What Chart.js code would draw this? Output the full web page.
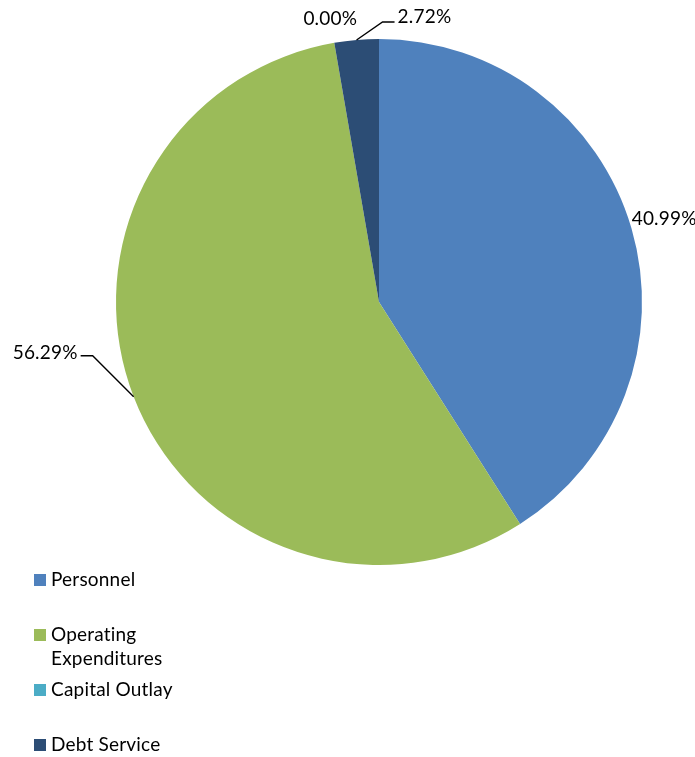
<!DOCTYPE html>
<html>
<head>
<meta charset="utf-8">
<script src="https://cdn.jsdelivr.net/npm/chart.js@4.4.1/dist/chart.umd.min.js"></script>
<style>
  html, body { margin: 0; padding: 0; background: #fff; }
  #wrap { width: 695px; height: 757px; position: relative; }
</style>
</head>
<body>
<div id="wrap"><canvas id="grafica"></canvas></div>
<script>
// Datos del gráfico
const categorias = ['Personnel', 'Operating Expenditures', 'Capital Outlay', 'Debt Service'];
const porcentajes = [40.99, 56.29, 0.00, 2.72];
const colores = ['#4F81BD', '#9BBB59', '#4BACC6', '#2C4D75'];

const FUENTE = 'Lato, "Open Sans", sans-serif';
const TAM = 19;

// Etiquetas de porcentaje con línea guía (estilo hoja de cálculo)
const etiquetasPlugin = {
    id: 'etiquetas',
    afterDatasetsDraw(chart) {
        const ctx = chart.ctx;
        const meta = chart.getDatasetMeta(0);
        ctx.save();
        ctx.font = `${TAM}px ${FUENTE}`;
        ctx.letterSpacing = '0.2px';
        ctx.fillStyle = '#000';
        ctx.strokeStyle = '#000';
        ctx.lineWidth = 1.4;
        ctx.textBaseline = 'middle';

        meta.data.forEach((arc, i) => {
            const p = arc.getProps(['x', 'y', 'startAngle', 'endAngle', 'outerRadius']);
            const mid = (p.startAngle + p.endAngle) / 2;
            const r = p.outerRadius;
            const txt = porcentajes[i].toFixed(2) + '%';
            const ex = p.x + Math.cos(mid) * r;
            const ey = p.y + Math.sin(mid) * r;

            if (i === 0) {
                // en el espacio de la derecha, sin guía
                ctx.textAlign = 'center';
                ctx.fillText(txt, p.x + Math.cos(mid) * (r + 34), p.y + Math.sin(mid) * (r + 34));
            } else if (i === 1) {
                const codoX = ex - 41, codoY = ey - 41;
                ctx.beginPath();
                ctx.moveTo(ex, ey);
                ctx.lineTo(codoX, codoY);
                ctx.lineTo(codoX - 12, codoY);
                ctx.stroke();
                ctx.textAlign = 'right';
                ctx.fillText(txt, codoX - 15, codoY - 3);
            } else if (i === 2) {
                ctx.textAlign = 'center';
                ctx.fillText(txt, ex - 4, ey - 24);
            } else {
                const codoX = ex + 26, codoY = ey - 18;
                ctx.beginPath();
                ctx.moveTo(ex, ey);
                ctx.lineTo(codoX, codoY);
                ctx.lineTo(codoX + 12, codoY);
                ctx.stroke();
                ctx.textAlign = 'left';
                ctx.fillText(txt, codoX + 15, codoY - 5);
            }
        });
        ctx.restore();
    }
};

// Leyenda a la izquierda, debajo del pastel
const leyendaPlugin = {
    id: 'leyendaIzq',
    afterDraw(chart) {
        const ctx = chart.ctx;
        ctx.save();
        ctx.font = `${TAM}px ${FUENTE}`;
        ctx.letterSpacing = '0.2px';
        ctx.textBaseline = 'middle';
        ctx.textAlign = 'left';
        const anchoMax = 135;
        let y = 580;
        chart.data.labels.forEach((lab, i) => {
            // partir en líneas si no cabe
            const palabras = lab.split(' ');
            const lineas = [];
            let actual = '';
            palabras.forEach(w => {
                const prueba = actual ? actual + ' ' + w : w;
                if (actual && ctx.measureText(prueba).width > anchoMax) {
                    lineas.push(actual);
                    actual = w;
                } else {
                    actual = prueba;
                }
            });
            lineas.push(actual);

            ctx.fillStyle = colores[i];
            ctx.fillRect(34, y - 6, 12, 12);
            ctx.fillStyle = '#000';
            lineas.forEach((l, k) => ctx.fillText(l, 51, y + k * 24));
            y += 55;
        });
        ctx.restore();
    }
};

new Chart(document.getElementById('grafica'), {
    type: 'pie',
    data: {
        labels: categorias,
        datasets: [{
            data: porcentajes,
            backgroundColor: colores,
            borderWidth: 0
        }]
    },
    options: {
        responsive: true,
        maintainAspectRatio: false,
        animation: false,
        layout: { padding: { left: 116, right: 53, top: 39, bottom: 192 } },
        plugins: {
            legend: { display: false },
            tooltip: { enabled: false }
        }
    },
    plugins: [etiquetasPlugin, leyendaPlugin]
});
</script>
</body>
</html>
